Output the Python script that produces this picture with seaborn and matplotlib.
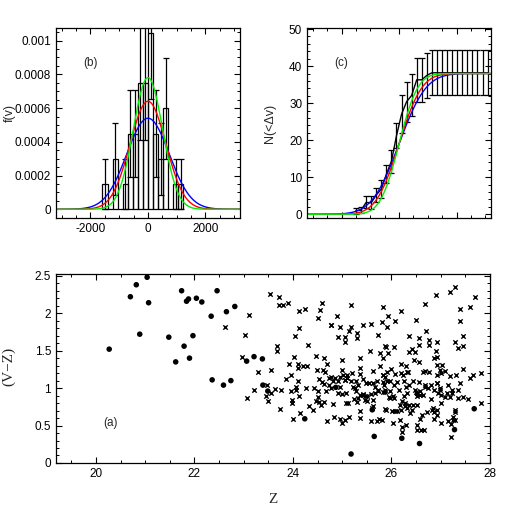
import numpy as np
import pandas as pd
import math
import matplotlib
matplotlib.use("Agg")
import matplotlib.pyplot as plt
from matplotlib.ticker import MultipleLocator, FormatStrFormatter
import seaborn as sns

# ---------------- data ----------------
# panel (b): histogram of velocities (counts per bin), bin width and edges
bin_width = 176.0
bin_index = list(range(-9, 7))
hist_counts = [1, 0, 2, 0, 1, 3, 3, 5, 5, 7, 3, 2, 4, 0, 1, 1]
n_total = 38
# gaussian fits (sigma, km/s) and colours
fit_sigma = [739.0, 623.0, 511.0]
fit_colors = ["#0000ff", "#ff0000", "#00ee00"]

# panel (c): cumulative counts with error range
cdf_v = [-1496, -1320, -1144, -968, -792, -616, -440, -264, -88, 88, 264, 440,
         616, 792, 968, 1144, 1320, 1496, 1672, 1848, 2024, 2200, 2376, 2552,
         2728, 2904, 3080]
cdf_mid = [1.0, 1.1, 3.2, 3.1, 5.2, 6.8, 10.8, 14.3, 21.2, 27.0, 30.4, 32.1,
           36.3, 36.3, 37.5, 38.2, 38.2, 38.2, 38.2, 38.2, 38.2, 38.2, 38.2,
           38.2, 38.2, 38.2, 38.2]
cdf_lo = [0.2, 0.3, 1.6, 1.4, 3.4, 4.3, 8.4, 11.1, 17.8, 21.9, 25.0, 26.4,
          30.3, 30.3, 31.4, 32.1, 32.1, 32.1, 32.1, 32.1, 32.1, 32.1, 32.1,
          32.1, 32.1, 32.1, 32.1]
cdf_hi = [1.8, 2.0, 4.8, 4.8, 7.0, 9.3, 13.3, 17.4, 24.6, 32.2, 35.8, 37.8,
          42.3, 42.3, 43.5, 44.4, 44.4, 44.4, 44.4, 44.4, 44.4, 44.4, 44.4,
          44.4, 44.4, 44.4, 44.4]

# panel (a): colour-magnitude diagram
dot_z = [20.27, 20.70, 20.82, 21.04, 21.07, 20.89, 21.48, 21.62, 21.74, 21.79,
         21.84, 21.88, 21.90, 21.97, 22.04, 22.15, 22.34, 22.36, 22.46, 22.59,
         22.65, 22.74, 22.82, 23.06, 23.21, 23.38, 23.39, 23.49, 24.24, 24.87,
         25.18, 25.61, 25.65, 26.21, 26.57, 27.28, 27.68]
dot_vz = [1.52, 2.22, 2.38, 2.48, 2.14, 1.72, 1.68, 1.35, 2.30, 1.56,
          2.16, 2.19, 1.40, 1.70, 2.20, 2.15, 1.96, 1.11, 2.30, 1.04,
          2.02, 1.10, 2.09, 1.36, 1.42, 1.39, 1.04, 0.96, 0.59, 1.01,
          0.12, 0.71, 0.355, 0.33, 0.26, 0.445, 0.724]

cross_z = [
    23.54, 23.10, 22.62, 23.02, 23.67, 23.67, 22.96, 23.30, 23.55, 23.47,
    23.21, 23.64, 23.07, 23.46, 23.49, 23.55,
    23.72, 23.72, 23.80, 23.89, 24.12, 24.25, 24.58, 24.55, 24.50, 24.77,
    24.13, 24.04, 24.31, 24.03, 24.47, 24.64, 24.70, 23.93, 24.11, 24.20,
    24.28, 24.10, 24.48, 24.62, 24.66, 23.96, 23.86, 24.535, 24.74, 24.10,
    24.60, 24.06, 24.64, 24.74, 24.26, 24.43, 23.76, 23.96, 24.06, 24.51,
    24.67, 24.50, 24.13, 23.99, 24.47, 24.535, 24.64, 23.99, 24.33, 24.40,
    24.57, 23.74, 24.14, 24.01, 24.70,
    25.18, 25.83, 24.90, 24.78, 24.95, 25.17, 25.43, 25.58, 25.80, 25.14,
    25.31, 24.91, 25.06, 25.06, 25.31, 25.73, 25.87, 25.56, 25.77, 24.99,
    25.37, 25.82, 25.77, 24.99, 25.37, 25.63, 25.19, 25.37, 25.83, 24.77,
    24.85, 24.95, 25.02, 25.09, 24.82, 24.92, 25.06, 25.17, 25.29, 25.43,
    25.48, 25.55, 25.62, 25.70, 25.83, 24.78, 24.95, 25.22, 25.33, 24.92,
    25.00, 25.07, 25.29, 25.37, 25.43, 25.51, 25.58, 25.66, 25.73, 25.82,
    25.87, 25.24, 25.31, 25.46, 25.50, 25.63, 24.82, 25.08, 25.63, 25.87,
    25.37, 24.83, 24.95, 25.06, 25.14, 25.00, 25.37, 25.58, 25.70, 25.75,
    25.80,
    26.91, 26.68, 26.19, 25.92, 26.49, 26.07, 25.90, 26.71, 26.36, 26.55,
    26.76, 26.93, 26.55, 26.76, 25.88, 26.06, 26.42, 26.36, 26.47, 26.90,
    25.93, 26.93, 26.46, 26.56, 26.86, 26.20, 26.29, 26.00, 25.90, 26.08,
    26.20, 26.34, 26.65, 26.69, 26.76, 26.93, 26.93, 25.86, 25.98, 26.11,
    26.25, 26.44, 26.56, 25.85, 26.05, 26.29, 26.36, 26.69, 26.80, 26.93,
    25.87, 25.97, 26.15, 26.32, 26.49, 26.52, 26.58, 26.65, 26.86, 26.94,
    25.95, 26.05, 26.25, 26.51, 26.80, 26.22, 26.27, 26.36, 26.44, 26.52,
    25.88, 26.02, 26.12, 26.20, 26.32, 26.42, 26.73, 26.83, 26.86, 26.93,
    26.61, 26.04, 26.17, 26.29, 26.58, 26.52, 26.59, 26.52, 26.22, 26.22,
    26.66, 26.86,
    27.30, 27.19, 27.69, 27.59, 27.40, 27.40, 27.45, 27.30, 27.36, 27.45,
    27.03, 27.09, 26.98, 27.01, 27.46, 27.82, 27.65, 27.59, 27.32, 27.19,
    27.40, 27.15, 27.23, 26.98, 27.36, 27.23, 27.01, 27.08, 27.18, 27.36,
    27.45, 27.55, 27.01, 27.82, 27.30, 27.30, 27.25, 27.01, 27.15, 27.25,
    27.30, 27.20, 27.21,
    26.51, 26.58, 26.48, 26.24, 26.31, 26.92, 26.98, 26.85, 26.92, 26.17,
    26.27, 25.97, 26.04, 25.46, 25.43, 25.66, 25.73, 25.83, 25.90, 25.09,
    25.06, 25.26, 25.33, 25.12, 25.60, 26.07, 26.38, 26.68, 26.75, 27.12]
cross_vz = [
    2.26, 1.97, 1.81, 1.71, 1.56, 1.49, 1.42, 1.21, 1.24, 1.04,
    0.98, 0.99, 0.87, 0.90, 0.83, 0.93,
    2.21, 2.11, 2.11, 2.13, 2.03, 2.05, 2.13, 2.04, 1.94, 1.84,
    1.80, 1.70, 1.57, 1.41, 1.43, 1.40, 1.32, 1.32, 1.32, 1.30,
    1.30, 1.27, 1.24, 1.24, 1.21, 1.18, 1.12, 1.12, 1.13, 1.09,
    1.08, 1.01, 1.05, 1.04, 1.00, 1.00, 0.98, 0.96, 0.98, 0.96,
    0.96, 0.88, 0.89, 0.84, 0.83, 0.81, 0.82, 0.80, 0.755, 0.71,
    0.78, 0.72, 0.67, 0.59, 0.555,
    2.11, 2.08, 1.96, 1.84, 1.81, 1.81, 1.84, 1.85, 1.88, 1.76,
    1.73, 1.68, 1.68, 1.62, 1.67, 1.71, 1.56, 1.50, 1.47, 1.37,
    1.40, 1.40, 1.30, 1.24, 1.27, 1.23, 1.20, 1.19, 1.18, 1.15,
    1.13, 1.15, 1.17, 1.13, 1.09, 1.10, 1.11, 1.09, 1.10, 1.12,
    1.07, 1.07, 1.07, 1.10, 1.08, 1.00, 1.02, 1.01, 1.04, 0.93,
    0.92, 0.93, 0.96, 0.91, 0.92, 0.89, 0.92, 0.93, 0.96, 0.95,
    0.95, 0.86, 0.82, 0.84, 0.83, 0.84, 0.79, 0.80, 0.755, 0.72,
    0.69, 0.61, 0.59, 0.57, 0.61, 0.53, 0.60, 0.555, 0.555, 0.59,
    0.58,
    2.24, 2.12, 2.03, 1.96, 1.91, 1.89, 1.81, 1.76, 1.70, 1.67,
    1.64, 1.61, 1.57, 1.57, 1.555, 1.555, 1.52, 1.48, 1.48, 1.50,
    1.47, 1.42, 1.38, 1.35, 1.40, 1.32, 1.30, 1.25, 1.22, 1.19,
    1.20, 1.21, 1.21, 1.23, 1.22, 1.31, 1.18, 1.15, 1.10, 1.08,
    1.10, 1.09, 1.08, 1.04, 1.04, 1.02, 1.04, 1.02, 1.04, 1.07,
    0.98, 0.96, 0.98, 0.93, 0.95, 0.93, 0.96, 0.91, 0.98, 0.93,
    0.875, 0.87, 0.89, 0.89, 0.86, 0.83, 0.80, 0.77, 0.78, 0.77,
    0.71, 0.69, 0.70, 0.71, 0.73, 0.71, 0.68, 0.71, 0.68, 0.64,
    0.64, 0.53, 0.58, 0.51, 0.59, 0.51, 0.44, 0.44, 0.48, 0.42,
    0.44, 0.59,
    2.35, 2.28, 2.21, 2.08, 2.06, 1.89, 1.69, 1.61, 1.54, 1.56,
    1.31, 1.23, 1.24, 1.20, 1.25, 1.20, 1.17, 1.14, 1.18, 1.155,
    1.07, 1.04, 0.98, 0.98, 0.98, 0.93, 0.91, 0.875, 0.875, 0.87,
    0.875, 0.85, 0.80, 0.80, 0.71, 0.675, 0.62, 0.54, 0.555, 0.58,
    0.58, 0.52, 0.35,
    0.93, 0.91, 0.98, 1.18, 1.22, 1.07, 1.00, 0.73, 0.71, 0.78,
    0.755, 0.87, 0.89, 0.89, 0.91, 1.02, 0.98, 1.18, 1.09, 1.18,
    1.11, 1.00, 0.87, 0.80, 0.73, 0.69, 0.67, 1.04, 1.00, 0.93]

# ---------------- style ----------------
sns.set_style("ticks")
plt.rcParams["font.family"] = ["Liberation Sans", "DejaVu Sans"]
plt.rcParams["axes.unicode_minus"] = False
plt.rcParams["font.size"] = 8.5
plt.rcParams["axes.linewidth"] = 0.9
plt.rcParams["xtick.direction"] = "in"
plt.rcParams["ytick.direction"] = "in"
plt.rcParams["xtick.top"] = True
plt.rcParams["ytick.right"] = True
plt.rcParams["xtick.major.size"] = 4
plt.rcParams["ytick.major.size"] = 4
plt.rcParams["xtick.minor.size"] = 2.2
plt.rcParams["ytick.minor.size"] = 2.2
plt.rcParams["xtick.major.width"] = 0.8
plt.rcParams["ytick.major.width"] = 0.8
plt.rcParams["xtick.minor.width"] = 0.7
plt.rcParams["ytick.minor.width"] = 0.7
plt.rcParams["xtick.labelsize"] = 8.5
plt.rcParams["ytick.labelsize"] = 8.5
plt.rcParams["xtick.color"] = "black"
plt.rcParams["ytick.color"] = "black"

fig = plt.figure(figsize=(5.18, 5.18), dpi=100)
ax_b = fig.add_axes([0.1081, 0.5792, 0.3552, 0.3668])
ax_c = fig.add_axes([0.5927, 0.5792, 0.3552, 0.3668])
ax_a = fig.add_axes([0.1081, 0.1062, 0.8378, 0.3649])

vgrid = np.linspace(-3200, 3200, 801)

# ---------------- panel (b) ----------------
edges = [k * bin_width for k in bin_index] + [(bin_index[-1] + 1) * bin_width]
centers = np.array([(k + 0.5) * bin_width for k in bin_index])
dens = np.array(hist_counts) / (n_total * bin_width)
hdf = pd.DataFrame({"v": centers, "w": dens})
sns.histplot(data=hdf, x="v", weights="w", bins=edges, element="bars",
             fill=False, color="black", linewidth=0.9, ax=ax_b)
mask = np.array(hist_counts) > 0
err = np.sqrt(np.array(hist_counts)) / (n_total * bin_width)
ax_b.errorbar(centers[mask], dens[mask], yerr=err[mask], fmt="none",
              ecolor="black", elinewidth=0.9, capsize=2.0, capthick=0.9)
for s, c in zip(fit_sigma, fit_colors):
    g = np.exp(-0.5 * (vgrid / s) ** 2) / (s * np.sqrt(2 * np.pi))
    sns.lineplot(x=vgrid, y=g, color=c, linewidth=1.0, ax=ax_b)
ax_b.set_xlim(-3200, 3200)
ax_b.set_ylim(-0.0000516, 0.001075)
ax_b.xaxis.set_major_locator(MultipleLocator(2000))
ax_b.xaxis.set_minor_locator(MultipleLocator(500))
ax_b.yaxis.set_major_locator(MultipleLocator(0.0002))
ax_b.yaxis.set_minor_locator(MultipleLocator(0.00005))
ax_b.yaxis.set_major_formatter(FormatStrFormatter("%g"))
ax_b.set_xlabel("")
ax_b.set_ylabel("f(v)", fontsize=9)
ax_b.yaxis.set_label_coords(-0.22, 0.55)
ax_b.text(0.147, 0.816, "(b)", transform=ax_b.transAxes, fontsize=8.5,
          ha="left", va="center")

# ---------------- panel (c) ----------------
cdf_v_arr = np.array(cdf_v, dtype=float)
mid = np.array(cdf_mid)
ax_c.errorbar(cdf_v_arr, mid, yerr=[mid - np.array(cdf_lo), np.array(cdf_hi) - mid],
              fmt="none", ecolor="black", elinewidth=0.9, capsize=2.0, capthick=0.9)
sns.lineplot(x=cdf_v_arr, y=mid, color="black", linewidth=1.0, ax=ax_c)
erf = np.vectorize(math.erf)
for s, c in zip(fit_sigma, fit_colors):
    cum = n_total * 0.5 * (1 + erf(vgrid / (s * np.sqrt(2))))
    sns.lineplot(x=vgrid, y=cum, color=c, linewidth=1.0, ax=ax_c)
ax_c.set_xlim(-3200, 3200)
ax_c.set_ylim(-1.0, 50.3)
ax_c.xaxis.set_major_locator(MultipleLocator(2000))
ax_c.xaxis.set_minor_locator(MultipleLocator(500))
ax_c.set_xticklabels([])
ax_c.yaxis.set_major_locator(MultipleLocator(10))
ax_c.yaxis.set_minor_locator(MultipleLocator(2))
ax_c.set_xlabel("")
ax_c.set_ylabel("N(<\u0394v)", fontsize=9)
ax_c.yaxis.set_label_coords(-0.17, 0.5)
ax_c.text(0.147, 0.816, "(c)", transform=ax_c.transAxes, fontsize=8.5,
          ha="left", va="center")

# ---------------- panel (a) ----------------
sns.scatterplot(x=cross_z, y=cross_vz, marker="x", color="black", s=10,
                linewidth=1.0, ax=ax_a)
sns.scatterplot(x=dot_z, y=dot_vz, marker="o", color="black", s=16,
                edgecolor="none", ax=ax_a)
ax_a.set_xlim(19.19, 28.0)
ax_a.set_ylim(0, 2.524)
ax_a.xaxis.set_major_locator(MultipleLocator(2))
ax_a.xaxis.set_minor_locator(MultipleLocator(0.5))
ax_a.yaxis.set_major_locator(MultipleLocator(0.5))
ax_a.yaxis.set_minor_locator(MultipleLocator(0.1))
ax_a.yaxis.set_major_formatter(FormatStrFormatter("%g"))
ax_a.set_xlabel("Z", fontsize=11, family=["Liberation Serif", "DejaVu Serif"])
ax_a.set_ylabel("(V\u2212Z)", fontsize=11, family=["Liberation Serif", "DejaVu Serif"])
ax_a.xaxis.set_label_coords(0.5, -0.16)
ax_a.yaxis.set_label_coords(-0.094, 0.51)
ax_a.text(0.108, 0.21, "(a)", transform=ax_a.transAxes, fontsize=8.5,
          ha="left", va="center")

for ax in (ax_a, ax_b, ax_c):
    for sp in ax.spines.values():
        sp.set_visible(True)
        sp.set_color("black")
    ax.tick_params(which="both", direction="in", top=True, right=True)

fig.savefig("out.png", dpi=100)
